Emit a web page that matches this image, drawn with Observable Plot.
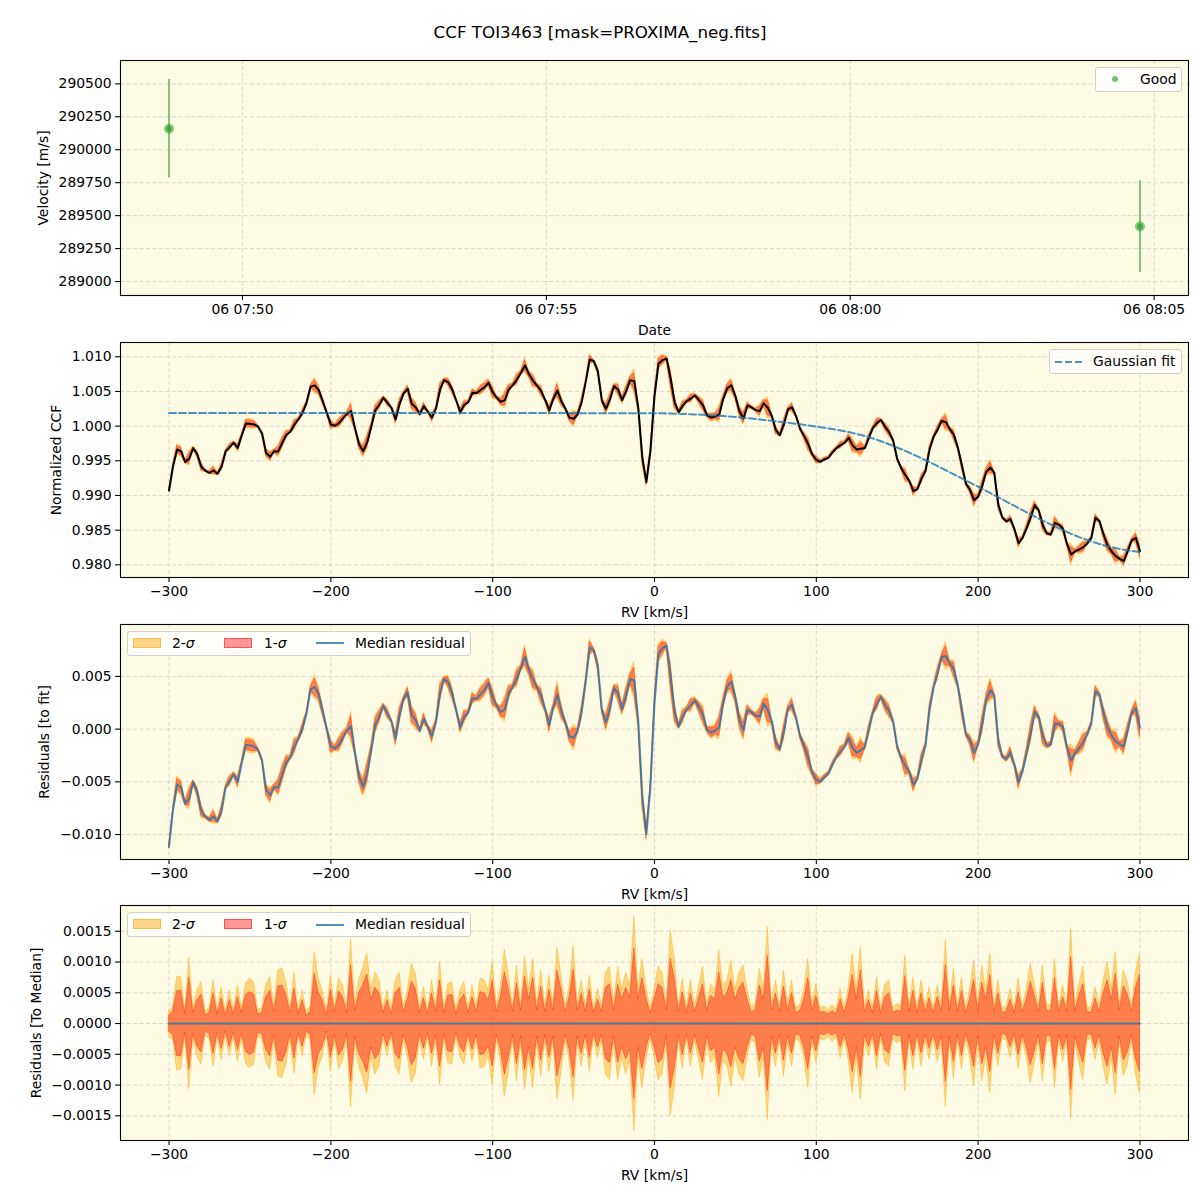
<!DOCTYPE html>
<html><head><meta charset="utf-8">
<script src="https://cdn.jsdelivr.net/npm/d3@7"></script>
<script src="https://cdn.jsdelivr.net/npm/@observablehq/plot@0.6"></script>
<style>
body{margin:0;background:#fff;}
#root{position:relative;width:1200px;height:1200px;font-family:"DejaVu Sans",sans-serif;color:#000;overflow:hidden;}
#root svg{position:absolute;left:0;}
.title{position:absolute;left:0;width:1200px;top:22px;text-align:center;font-size:16.7px;line-height:20px;}
.legend{position:absolute;background:rgba(255,255,255,0.8);border:1px solid #d0d0d0;border-radius:3px;box-sizing:border-box;font-size:13.9px;z-index:5;}
.legend > *{position:absolute;}
.legend .t{top:0;white-space:nowrap;}
</style></head><body>
<div id="root"><div class="title">CCF TOI3463 [mask=PROXIMA_neg.fits]</div></div>
<script>
// ---------------- data ----------------
const obsTime = ["2021-11-06T07:48:47.5Z", "2021-11-06T08:04:46Z"];
const obsVel = [290159, 289417];
const obsErr = [374, 348];
const timeTicks = ["2021-11-06T07:50:00Z", "2021-11-06T07:55:00Z", "2021-11-06T08:00:00Z", "2021-11-06T08:05:00Z"];
const velTicks = [289000, 289250, 289500, 289750, 290000, 290250, 290500];

const rvTicks = [-300, -200, -100, 0, 100, 200, 300];
const ccfTicks = [0.980, 0.985, 0.990, 0.995, 1.000, 1.005, 1.010];
const resTicks = [-0.010, -0.005, 0.000, 0.005];
const medTicks = [-0.0015, -0.0010, -0.0005, 0.0000, 0.0005, 0.0010, 0.0015];

// RV grid (km/s), step 2.5
const rv = d3.range(-300, 300.001, 2.5);

const ccf = [
0.99072,0.99423,0.99663,0.99635,0.99481,0.99534,0.99683,0.99591,0.99409,0.99356,
0.99327,0.99361,0.99312,0.99413,0.99635,0.99697,0.99760,0.99687,0.99870,1.00038,
1.00034,1.00024,0.99995,0.99894,0.99611,0.99558,0.99639,0.99635,0.99760,0.99875,
0.99918,1.00024,1.00096,1.00192,1.00337,1.00567,1.00587,1.00519,1.00361,1.00192,
1.00024,1.00005,1.00043,1.00111,1.00178,1.00216,0.99962,0.99736,0.99639,0.99769,
0.99990,1.00231,1.00308,1.00409,1.00337,1.00264,1.00096,1.00322,1.00471,1.00538,
1.00322,1.00269,1.00173,1.00288,1.00207,1.00120,1.00255,1.00529,1.00663,1.00635,
1.00529,1.00370,1.00202,1.00308,1.00346,1.00481,1.00476,1.00519,1.00563,1.00625,
1.00490,1.00409,1.00351,1.00375,1.00534,1.00591,1.00673,1.00769,1.00875,1.00745,
1.00654,1.00582,1.00505,1.00375,1.00226,1.00394,1.00514,1.00356,1.00250,1.00120,
1.00106,1.00168,1.00346,1.00635,1.00962,1.00938,1.00793,1.00370,1.00250,1.00385,
1.00577,1.00529,1.00375,1.00505,1.00663,1.00649,1.00264,0.99543,0.99192,0.99639,
1.00430,1.00904,1.00952,1.00976,1.00683,1.00337,1.00202,1.00298,1.00361,1.00399,
1.00442,1.00375,1.00298,1.00154,1.00125,1.00139,1.00168,1.00394,1.00548,1.00587,
1.00433,1.00216,1.00111,1.00298,1.00269,1.00231,1.00216,1.00332,1.00264,1.00149,
0.99942,0.99870,1.00029,1.00240,1.00274,1.00144,0.99962,0.99856,0.99740,0.99591,
0.99514,0.99486,0.99519,0.99543,0.99620,0.99683,0.99726,0.99760,0.99832,0.99721,
0.99663,0.99673,0.99683,0.99832,0.99976,1.00048,1.00087,0.99990,0.99913,0.99793,
0.99529,0.99394,0.99293,0.99211,0.99062,0.99091,0.99240,0.99351,0.99663,0.99846,
0.99952,1.00077,1.00058,0.99957,0.99875,0.99687,0.99433,0.99168,0.99082,0.98933,
0.98981,0.99135,0.99341,0.99404,0.99327,0.98865,0.98683,0.98625,0.98663,0.98510,
0.98312,0.98389,0.98529,0.98687,0.98861,0.98784,0.98567,0.98452,0.98437,0.98606,
0.98577,0.98519,0.98293,0.98149,0.98197,0.98221,0.98255,0.98308,0.98389,0.98678,
0.98630,0.98437,0.98279,0.98192,0.98125,0.98086,0.98053,0.98197,0.98356,0.98389,
0.98197];

const gaussFit = [
1.00188,1.00188,1.00188,1.00188,1.00188,1.00188,1.00188,1.00188,1.00188,1.00188,
1.00188,1.00188,1.00188,1.00188,1.00188,1.00188,1.00188,1.00188,1.00188,1.00188,
1.00188,1.00188,1.00188,1.00188,1.00188,1.00188,1.00188,1.00188,1.00188,1.00188,
1.00188,1.00188,1.00188,1.00188,1.00188,1.00188,1.00188,1.00188,1.00188,1.00188,
1.00188,1.00188,1.00188,1.00188,1.00188,1.00188,1.00188,1.00188,1.00188,1.00188,
1.00188,1.00188,1.00188,1.00188,1.00188,1.00188,1.00188,1.00188,1.00188,1.00188,
1.00188,1.00188,1.00188,1.00188,1.00188,1.00188,1.00188,1.00188,1.00188,1.00188,
1.00188,1.00188,1.00188,1.00188,1.00188,1.00188,1.00188,1.00188,1.00188,1.00188,
1.00188,1.00188,1.00188,1.00188,1.00188,1.00188,1.00188,1.00188,1.00188,1.00188,
1.00188,1.00188,1.00188,1.00188,1.00188,1.00188,1.00188,1.00188,1.00188,1.00188,
1.00187,1.00187,1.00187,1.00187,1.00187,1.00187,1.00187,1.00187,1.00187,1.00187,
1.00187,1.00187,1.00187,1.00187,1.00187,1.00187,1.00187,1.00187,1.00187,1.00187,
1.00186,1.00185,1.00184,1.00183,1.00182,1.00180,1.00178,1.00176,1.00174,1.00171,
1.00169,1.00166,1.00163,1.00160,1.00157,1.00154,1.00150,1.00146,1.00142,1.00137,
1.00132,1.00127,1.00122,1.00116,1.00110,1.00104,1.00097,1.00090,1.00083,1.00076,
1.00069,1.00062,1.00055,1.00048,1.00041,1.00033,1.00026,1.00018,1.00010,1.00002,
0.99994,0.99985,0.99976,0.99967,0.99958,0.99948,0.99937,0.99926,0.99914,0.99901,
0.99887,0.99872,0.99856,0.99839,0.99821,0.99802,0.99782,0.99761,0.99739,0.99716,
0.99692,0.99667,0.99642,0.99616,0.99590,0.99563,0.99536,0.99508,0.99480,0.99451,
0.99422,0.99393,0.99364,0.99335,0.99305,0.99275,0.99245,0.99216,0.99186,0.99156,
0.99126,0.99096,0.99066,0.99035,0.99004,0.98973,0.98942,0.98911,0.98880,0.98849,
0.98818,0.98787,0.98757,0.98727,0.98697,0.98667,0.98638,0.98609,0.98580,0.98552,
0.98525,0.98498,0.98472,0.98447,0.98423,0.98400,0.98378,0.98357,0.98337,0.98318,
0.98300,0.98283,0.98268,0.98254,0.98241,0.98229,0.98218,0.98208,0.98199,0.98191,
0.98184];

// half-widths of the 2-sigma and 1-sigma bands
const sigma2 = [
0.00020,0.00028,0.00076,0.00075,0.00022,0.00107,0.00025,0.00054,0.00067,0.00020,
0.00025,0.00070,0.00022,0.00059,0.00020,0.00054,0.00022,0.00062,0.00025,0.00065,
0.00073,0.00067,0.00022,0.00025,0.00062,0.00075,0.00028,0.00086,0.00089,0.00067,
0.00025,0.00082,0.00022,0.00054,0.00020,0.00028,0.00116,0.00072,0.00054,0.00020,
0.00078,0.00028,0.00074,0.00062,0.00025,0.00136,0.00032,0.00072,0.00089,0.00114,
0.00055,0.00083,0.00070,0.00025,0.00054,0.00022,0.00070,0.00083,0.00028,0.00055,
0.00097,0.00081,0.00025,0.00059,0.00022,0.00070,0.00028,0.00100,0.00025,0.00064,
0.00067,0.00022,0.00054,0.00067,0.00025,0.00062,0.00028,0.00073,0.00070,0.00054,
0.00100,0.00028,0.00060,0.00119,0.00078,0.00028,0.00094,0.00032,0.00108,0.00055,
0.00105,0.00032,0.00086,0.00028,0.00078,0.00032,0.00123,0.00078,0.00028,0.00060,
0.00125,0.00032,0.00070,0.00028,0.00078,0.00025,0.00056,0.00028,0.00083,0.00092,
0.00032,0.00092,0.00055,0.00083,0.00060,0.00174,0.00055,0.00105,0.00059,0.00025,
0.00055,0.00092,0.00083,0.00032,0.00150,0.00105,0.00028,0.00073,0.00025,0.00070,
0.00028,0.00060,0.00092,0.00032,0.00064,0.00055,0.00119,0.00060,0.00070,0.00102,
0.00055,0.00083,0.00094,0.00055,0.00027,0.00032,0.00089,0.00055,0.00157,0.00032,
0.00070,0.00028,0.00086,0.00032,0.00070,0.00025,0.00030,0.00055,0.00105,0.00032,
0.00064,0.00025,0.00028,0.00022,0.00030,0.00022,0.00056,0.00025,0.00060,0.00113,
0.00055,0.00124,0.00028,0.00054,0.00025,0.00075,0.00025,0.00062,0.00070,0.00025,
0.00032,0.00028,0.00110,0.00028,0.00075,0.00025,0.00070,0.00028,0.00059,0.00025,
0.00062,0.00032,0.00135,0.00032,0.00089,0.00028,0.00075,0.00025,0.00055,0.00102,
0.00032,0.00094,0.00055,0.00113,0.00028,0.00070,0.00025,0.00028,0.00056,0.00025,
0.00073,0.00028,0.00055,0.00097,0.00064,0.00028,0.00094,0.00032,0.00028,0.00105,
0.00028,0.00062,0.00028,0.00154,0.00032,0.00064,0.00092,0.00028,0.00025,0.00059,
0.00028,0.00070,0.00100,0.00055,0.00116,0.00032,0.00086,0.00067,0.00028,0.00083,
0.00113];

const sigma1 = [
0.00013,0.00019,0.00053,0.00053,0.00015,0.00075,0.00017,0.00038,0.00047,0.00013,
0.00017,0.00049,0.00015,0.00041,0.00013,0.00038,0.00015,0.00043,0.00017,0.00046,
0.00051,0.00047,0.00015,0.00017,0.00043,0.00053,0.00019,0.00060,0.00062,0.00047,
0.00017,0.00057,0.00015,0.00038,0.00013,0.00019,0.00081,0.00050,0.00038,0.00013,
0.00055,0.00019,0.00052,0.00043,0.00017,0.00095,0.00021,0.00050,0.00062,0.00080,
0.00039,0.00058,0.00049,0.00017,0.00038,0.00015,0.00049,0.00058,0.00019,0.00039,
0.00068,0.00057,0.00017,0.00041,0.00015,0.00049,0.00019,0.00070,0.00017,0.00045,
0.00047,0.00015,0.00038,0.00047,0.00017,0.00043,0.00019,0.00051,0.00049,0.00038,
0.00070,0.00019,0.00042,0.00083,0.00055,0.00019,0.00066,0.00021,0.00076,0.00039,
0.00074,0.00021,0.00060,0.00019,0.00055,0.00021,0.00086,0.00055,0.00019,0.00042,
0.00088,0.00021,0.00049,0.00019,0.00055,0.00017,0.00039,0.00019,0.00058,0.00064,
0.00021,0.00064,0.00039,0.00058,0.00042,0.00122,0.00039,0.00074,0.00041,0.00017,
0.00039,0.00064,0.00058,0.00021,0.00105,0.00074,0.00019,0.00051,0.00017,0.00049,
0.00019,0.00042,0.00064,0.00021,0.00045,0.00039,0.00083,0.00042,0.00049,0.00071,
0.00039,0.00058,0.00066,0.00039,0.00018,0.00021,0.00062,0.00039,0.00110,0.00021,
0.00049,0.00019,0.00060,0.00021,0.00049,0.00017,0.00020,0.00039,0.00074,0.00021,
0.00045,0.00017,0.00019,0.00015,0.00020,0.00015,0.00039,0.00017,0.00042,0.00079,
0.00039,0.00087,0.00019,0.00038,0.00017,0.00053,0.00017,0.00043,0.00049,0.00017,
0.00021,0.00019,0.00077,0.00019,0.00053,0.00017,0.00049,0.00019,0.00041,0.00017,
0.00043,0.00021,0.00095,0.00021,0.00062,0.00019,0.00053,0.00017,0.00039,0.00071,
0.00021,0.00066,0.00039,0.00079,0.00019,0.00049,0.00017,0.00019,0.00039,0.00017,
0.00051,0.00019,0.00039,0.00068,0.00045,0.00019,0.00066,0.00021,0.00019,0.00074,
0.00019,0.00043,0.00019,0.00108,0.00021,0.00045,0.00064,0.00019,0.00017,0.00041,
0.00019,0.00049,0.00070,0.00039,0.00081,0.00021,0.00060,0.00047,0.00019,0.00058,
0.00079];

// ---------------- build ----------------
const BG = "#fdfbe3";
const GRID = "#b0b0b0";
const C_ORANGE = "orange", C_RED = "red", C_BLUE = "#1f77b4", C_GREEN = "#2ca02c";

const rows = rv.map((v, i) => ({
  rv: v, ccf: ccf[i], fit: gaussFit[i], s1: sigma1[i], s2: sigma2[i],
  res: ccf[i] - gaussFit[i]
}));
const obs = obsTime.map((t, i) => ({t: new Date(t), v: obsVel[i], e: obsErr[i]}));
const tTicks = timeTicks.map(t => new Date(t));

const root = document.getElementById("root");
const fmtTime = d3.utcFormat("%d %H:%M");

function panel({top, x, y, xticks, xfmt, yticks, yfmt, xlabel, ylabel, ylabelOffset, marks}) {
  const gridStyle = {stroke: GRID, strokeOpacity: 0.6, strokeDasharray: "4,2.5", strokeWidth: 0.8};
  const svg = Plot.plot({
    width: 1200, height: 300,
    marginLeft: 120, marginRight: 12, marginTop: 20, marginBottom: 45,
    style: {fontFamily: '"DejaVu Sans", sans-serif', fontSize: "13.9px", background: "transparent", color: "black", overflow: "visible"},
    x, y,
    marks: [
      Plot.frame({fill: BG}),
      Plot.gridX(xticks, gridStyle),
      Plot.gridY(yticks, gridStyle),
      ...marks,
      Plot.frame({stroke: "black", strokeWidth: 1.1}),
      Plot.axisX(xticks, {tickFormat: xfmt, tickSize: 4.9, tickPadding: 4, strokeWidth: 1.1,
        label: xlabel, labelAnchor: "center", labelArrow: "none", labelOffset: 39}),
      Plot.axisY(yticks, {tickFormat: yfmt, tickSize: 4.9, tickPadding: 4, strokeWidth: 1.1,
        label: ylabel, labelAnchor: "center", labelArrow: "none", labelOffset: ylabelOffset})
    ]
  });
  svg.style.top = top + "px";
  root.appendChild(svg);
}

// Panel 1: velocity vs time (axis padding 5% like matplotlib)
const tExt = d3.extent(obs, d => +d.t);
const tPad = (tExt[1] - tExt[0]) * 0.05;
panel({
  top: 40,
  x: {type: "utc", domain: [new Date(tExt[0] - tPad), new Date(tExt[1] + tPad)]},
  y: {domain: [288894, 290677]},
  xticks: tTicks, xfmt: fmtTime, yticks: velTicks, yfmt: d3.format("d"),
  xlabel: "Date", ylabel: "Velocity [m/s]", ylabelOffset: 82,
  marks: [
    Plot.ruleX(obs, {x: "t", y1: d => d.v - d.e, y2: d => d.v + d.e, stroke: C_GREEN, strokeOpacity: 0.6, strokeWidth: 2}),
    Plot.dot(obs, {x: "t", y: "v", r: 5, fill: C_GREEN, fillOpacity: 0.55, stroke: "none"}),
    Plot.dot(obs, {x: "t", y: "v", r: 3, fill: C_GREEN, fillOpacity: 0.6, stroke: "none"})
  ]
});

// Panel 2: CCF
panel({
  top: 322,
  x: {domain: [-330, 330]},
  y: {domain: [0.97817, 1.01206]},
  xticks: rvTicks, xfmt: d3.format("d"), yticks: ccfTicks, yfmt: d3.format(".3f"),
  xlabel: "RV [km/s]", ylabel: "Normalized CCF", ylabelOffset: 69,
  marks: [
    Plot.areaY(rows, {x: "rv", y1: d => d.ccf - d.s2, y2: d => d.ccf + d.s2, fill: C_ORANGE, fillOpacity: 0.45, stroke: C_ORANGE, strokeOpacity: 0.45, strokeWidth: 0.8}),
    Plot.areaY(rows, {x: "rv", y1: d => d.ccf - d.s1, y2: d => d.ccf + d.s1, fill: C_RED, fillOpacity: 0.4, stroke: C_RED, strokeOpacity: 0.4, strokeWidth: 0.8}),
    Plot.lineY(rows, {x: "rv", y: "ccf", stroke: "black", strokeWidth: 2}),
    Plot.lineY(rows, {x: "rv", y: "fit", stroke: C_BLUE, strokeOpacity: 0.8, strokeWidth: 2, strokeDasharray: "7,3"})
  ]
});

// Panel 3: residuals to fit
panel({
  top: 603.5,
  x: {domain: [-330, 330]},
  y: {domain: [-0.01237, 0.00993]},
  xticks: rvTicks, xfmt: d3.format("d"), yticks: resTicks, yfmt: d3.format(".3f"),
  xlabel: "RV [km/s]", ylabel: "Residuals [to fit]", ylabelOffset: 81,
  marks: [
    Plot.areaY(rows, {x: "rv", y1: d => d.res - d.s2, y2: d => d.res + d.s2, fill: C_ORANGE, fillOpacity: 0.45, stroke: C_ORANGE, strokeOpacity: 0.45, strokeWidth: 0.8}),
    Plot.areaY(rows, {x: "rv", y1: d => d.res - d.s1, y2: d => d.res + d.s1, fill: C_RED, fillOpacity: 0.4, stroke: C_RED, strokeOpacity: 0.4, strokeWidth: 0.8}),
    Plot.lineY(rows, {x: "rv", y: "res", stroke: C_BLUE, strokeOpacity: 0.8, strokeWidth: 2})
  ]
});

// Panel 4: residuals to median
panel({
  top: 885,
  x: {domain: [-330, 330]},
  y: {domain: [-0.001901, 0.001918]},
  xticks: rvTicks, xfmt: d3.format("d"), yticks: medTicks, yfmt: d3.format(".4f"),
  xlabel: "RV [km/s]", ylabel: "Residuals [To Median]", ylabelOffset: 89,
  marks: [
    Plot.areaY(rows, {x: "rv", y1: d => -d.s2, y2: d => d.s2, fill: C_ORANGE, fillOpacity: 0.45, stroke: C_ORANGE, strokeOpacity: 0.5, strokeWidth: 0.8}),
    Plot.areaY(rows, {x: "rv", y1: d => -d.s1, y2: d => d.s1, fill: C_RED, fillOpacity: 0.4, stroke: C_RED, strokeOpacity: 0.45, strokeWidth: 0.8}),
    Plot.lineY(rows, {x: "rv", y: d => d.ccf - d.ccf, stroke: C_BLUE, strokeOpacity: 0.8, strokeWidth: 2})
  ]
});

// ---------------- legends (HTML) ----------------
function legend(left, top, width, height, html) {
  const div = document.createElement("div");
  div.className = "legend";
  Object.assign(div.style, {left: left + "px", top: top + "px", width: width + "px", height: height + "px"});
  div.innerHTML = html;
  div.querySelectorAll(".t").forEach(t => t.style.lineHeight = (height - 2) + "px");
  root.appendChild(div);
}
legend(1095, 67, 87, 25,
  `<span style="left:16px;top:8px;width:6px;height:6px;border-radius:50%;background:${C_GREEN};opacity:0.65"></span>
   <span class="t" style="left:44px">Good</span>`);
legend(1049, 349, 133, 25,
  `<svg width="30" height="4" style="left:4px;top:10px;position:absolute"><line x1="1" x2="29" y1="2" y2="2" stroke="${C_BLUE}" stroke-opacity="0.8" stroke-width="2" stroke-dasharray="7,3"/></svg>
   <span class="t" style="left:43px">Gaussian fit</span>`);
const resLegend = `
  <span style="left:5px;top:6px;width:28px;height:10px;background:rgba(255,165,0,0.45);border:1px solid rgba(255,165,0,0.5);box-sizing:border-box"></span>
  <span class="t" style="left:44px">2-<i>σ</i></span>
  <span style="left:96px;top:6px;width:28px;height:10px;background:rgba(255,0,0,0.4);border:1px solid rgba(255,0,0,0.45);box-sizing:border-box"></span>
  <span class="t" style="left:136px">1-<i>σ</i></span>
  <svg width="30" height="4" style="left:187px;top:9.5px;position:absolute"><line x1="1" x2="29" y1="2" y2="2" stroke="${C_BLUE}" stroke-opacity="0.8" stroke-width="2"/></svg>
  <span class="t" style="left:227px">Median residual</span>`;
legend(127, 630.5, 344, 25, resLegend);
legend(127, 912, 344, 25, resLegend);
</script>
</body></html>
